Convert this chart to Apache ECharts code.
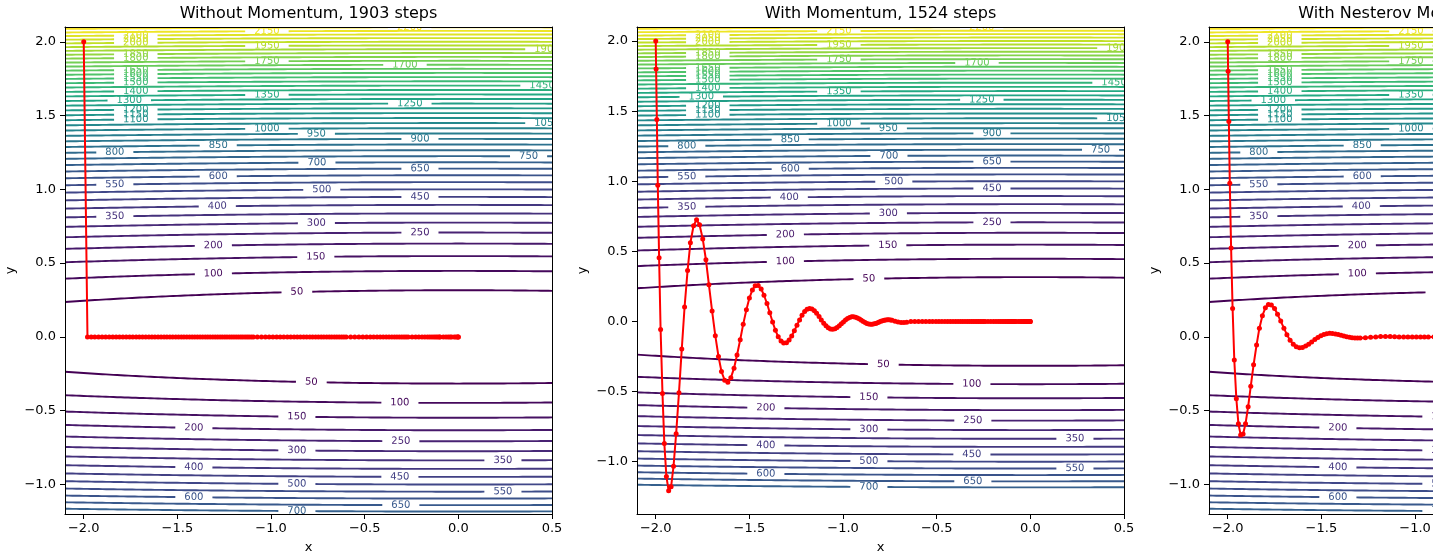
<!DOCTYPE html>
<html>
<head>
<meta charset="utf-8">
<script src="https://cdn.jsdelivr.net/npm/echarts@6/dist/echarts.min.js"></script>
<style>
  html, body { margin: 0; padding: 0; background: #ffffff; }
  #chart { width: 1433px; height: 555px; }
</style>
</head>
<body>
<div id="chart"></div>
<script>
// Loss surface f(x, y) = 5·x² + 500·y², drawn as labelled level curves
const surfaceWeights = [5, 500];
const surfaceDomainX = [-2.1, 0.5];
const surfaceDomainY = [-1.2, 2.1];

const levels = [50, 100, 150, 200, 250, 300, 350, 400, 450, 500, 550, 600, 650, 700, 750,
  800, 850, 900, 950, 1000, 1050, 1100, 1150, 1200, 1250, 1300, 1350, 1400, 1450, 1500,
  1550, 1600, 1650, 1700, 1750, 1800, 1850, 1900, 1950, 2000, 2050, 2100, 2150, 2200];

// x position of the inline label on the upper (y > 0) branch of each level
const upperLabelX = [-0.862, -1.308, -0.761, -1.308, -0.205, -0.758, -1.834, -1.287, -0.205, -0.729,
  -1.834, -1.282, -0.205, -0.755, 0.375, -1.834, -1.282, -0.205, -0.758, -1.022,
  0.473, -1.722, -1.722, -1.722, -0.259, -1.757, -1.022, -1.722, 0.447, -1.722,
  -1.722, -1.722, -1.722, -0.285, -1.022, -1.722, -1.722, 0.473, -1.022, -1.722,
  -1.722, -1.722, -1.022, -0.260];
// x position of the inline label on the lower (y < 0) branch, levels 50 … 700
const lowerLabelX = [-0.785, -0.312, -0.862, -1.412, -0.307, -0.862, 0.238, -1.412, -0.312, -0.862,
  0.238, -1.412, -0.307, -0.862];

const panelNames = ['Without Momentum', 'With Momentum', 'With Nesterov Momentum'];
const stepCounts = [1903, 1524, 1541];
const xTicks = [-2.0, -1.5, -1.0, -0.5, 0.0, 0.5];
const yTicks = [-1.0, -0.5, 0.0, 0.5, 1.0, 1.5, 2.0];
const panelYRange = [[-1.2, 2.1], [-1.373, 2.1], [-1.2, 2.1]];

// Plain gradient descent iterates
const plainPath = [[-2.000,2],[-1.980,0],[-1.960,0],[-1.941,0],[-1.921,0],[-1.902,0],[-1.883,0],[-1.864,0],[-1.845,0],[-1.827,0],[-1.809,0],
  [-1.791,0],[-1.773,0],[-1.755,0],[-1.738,0],[-1.720,0],[-1.703,0],[-1.686,0],[-1.669,0],[-1.652,0],[-1.636,0],
  [-1.620,0],[-1.603,0],[-1.587,0],[-1.571,0],[-1.556,0],[-1.540,0],[-1.525,0],[-1.509,0],[-1.494,0],[-1.479,0],
  [-1.465,0],[-1.450,0],[-1.435,0],[-1.421,0],[-1.407,0],[-1.393,0],[-1.379,0],[-1.365,0],[-1.351,0],[-1.338,0],
  [-1.325,0],[-1.311,0],[-1.298,0],[-1.285,0],[-1.272,0],[-1.260,0],[-1.247,0],[-1.235,0],[-1.222,0],[-1.210,0],
  [-1.198,0],[-1.186,0],[-1.174,0],[-1.162,0],[-1.151,0],[-1.139,0],[-1.128,0],[-1.117,0],[-1.105,0],[-1.094,0],
  [-1.073,0],[-1.051,0],[-1.030,0],[-1.010,0],[-0.990,0],[-0.970,0],[-0.951,0],[-0.932,0],[-0.913,0],[-0.895,0],
  [-0.877,0],[-0.860,0],[-0.843,0],[-0.826,0],[-0.810,0],[-0.793,0],[-0.778,0],[-0.762,0],[-0.747,0],[-0.732,0],
  [-0.718,0],[-0.703,0],[-0.689,0],[-0.676,0],[-0.662,0],[-0.649,0],[-0.636,0],[-0.623,0],[-0.611,0],[-0.599,0],
  [-0.575,0],[-0.553,0],[-0.531,0],[-0.510,0],[-0.490,0],[-0.470,0],[-0.452,0],[-0.434,0],[-0.417,0],[-0.401,0],
  [-0.385,0],[-0.370,0],[-0.355,0],[-0.341,0],[-0.328,0],[-0.315,0],[-0.302,0],[-0.290,0],[-0.279,0],[-0.268,0],
  [-0.247,0],[-0.228,0],[-0.211,0],[-0.194,0],[-0.179,0],[-0.165,0],[-0.153,0],[-0.141,0],[-0.130,0],[-0.120,0],
  [-0.111,0],[-0.102,0],[-0.098,0],[-0.080,0],[-0.066,0],[-0.054,0],[-0.044,0],[-0.036,0],[-0.022,0],[-0.013,0],
  [-0.005,0],[-0.001,0],[0,0]];

// Heavy-ball momentum iterates
const momentumPath = [[-2.000,2.000],[-1.998,1.800],[-1.994,1.440],[-1.989,0.972],[-1.982,0.454],[-1.974,-0.058],
  [-1.964,-0.513],[-1.954,-0.871],[-1.943,-1.106],[-1.931,-1.207],[-1.918,-1.178],[-1.905,-1.033],[-1.891,-0.800],
  [-1.876,-0.509],[-1.861,-0.197],[-1.846,0.103],[-1.830,0.363],[-1.815,0.561],[-1.798,0.683],[-1.782,0.725],
  [-1.766,0.690],[-1.749,0.589],[-1.732,0.440],[-1.716,0.261],[-1.699,0.074],[-1.682,-0.101],[-1.665,-0.249],
  [-1.649,-0.357],[-1.632,-0.419],[-1.615,-0.433],[-1.599,-0.402],[-1.582,-0.333],[-1.566,-0.239],[-1.549,-0.130],
  [-1.533,-0.019],[-1.516,0.083],[-1.500,0.167],[-1.484,0.225],[-1.469,0.255],[-1.453,0.256],[-1.437,0.232],
  [-1.422,0.187],[-1.406,0.128],[-1.391,0.062],[-1.376,-0.004],[-1.361,-0.063],[-1.346,-0.109],[-1.331,-0.140],
  [-1.317,-0.154],[-1.302,-0.151],[-1.288,-0.133],[-1.274,-0.104],[-1.260,-0.067],[-1.246,-0.027],[-1.232,0.011],
  [-1.219,0.045],[-1.205,0.071],[-1.192,0.087],[-1.179,0.093],[-1.166,0.089],[-1.153,0.076],[-1.141,0.058],
  [-1.128,0.035],[-1.116,0.011],[-1.103,-0.012],[-1.091,-0.031],[-1.079,-0.045],[-1.067,-0.054],[-1.055,-0.056],
  [-1.043,-0.052],[-1.032,-0.043],[-1.020,-0.031],[-1.009,-0.017],[-0.998,-0.003],[-0.987,0.010],[-0.976,0.021],
  [-0.965,0.029],[-0.954,0.033],[-0.944,0.033],[-0.933,0.030],[-0.923,0.024],[-0.912,0.017],[-0.902,0.008],
  [-0.892,0.000],[-0.882,-0.008],[-0.873,-0.014],[-0.863,-0.018],[-0.853,-0.020],[-0.844,-0.019],[-0.834,-0.017],
  [-0.825,-0.014],[-0.816,-0.009],[-0.807,-0.004],[-0.798,0.001],[-0.789,0.006],[-0.780,0.009],[-0.772,0.011],
  [-0.763,0.012],[-0.755,0.012],[-0.746,0.010],[-0.738,0.008],[-0.722,0.002],[-0.706,-0.004],[-0.690,-0.007],
  [-0.675,-0.007],[-0.660,-0.005],[-0.638,0],[-0.617,0],[-0.597,0],[-0.577,0],[-0.558,0],[-0.539,0],[-0.522,0],
  [-0.504,0],[-0.488,0],[-0.472,0],[-0.456,0],[-0.441,0],[-0.427,0],[-0.413,0],[-0.399,0],[-0.386,0],[-0.373,0],
  [-0.361,0],[-0.349,0],[-0.337,0],[-0.326,0],[-0.315,0],[-0.305,0],[-0.295,0],[-0.285,0],[-0.276,0],[-0.267,0],
  [-0.258,0],[-0.249,0],[-0.241,0],[-0.226,0],[-0.211,0],[-0.197,0],[-0.184,0],[-0.172,0],[-0.161,0],[-0.151,0],
  [-0.141,0],[-0.132,0],[-0.123,0],[-0.115,0],[-0.108,0],[-0.101,0],[-0.094,0],[-0.088,0],[-0.082,0],[-0.077,0],
  [-0.065,0],[-0.055,0],[-0.047,0],[-0.039,0],[-0.033,0],[-0.028,0],[-0.024,0],[-0.020,0],[-0.017,0],[-0.014,0],
  [-0.008,0],[-0.005,0],[-0.003,0],[-0.001,0],[0,0]];

// Nesterov momentum iterates
const nesterovPath = [[-2.000,2.000],[-1.998,1.800],[-1.994,1.460],[-1.989,1.042],[-1.982,0.603],[-1.974,0.192],
  [-1.965,-0.156],[-1.954,-0.419],[-1.943,-0.588],[-1.931,-0.664],[-1.918,-0.658],[-1.905,-0.588],[-1.891,-0.473],
  [-1.877,-0.334],[-1.862,-0.189],[-1.846,-0.054],[-1.831,0.059],[-1.815,0.144],[-1.799,0.197],[-1.783,0.220],
  [-1.767,0.216],[-1.750,0.192],[-1.734,0.153],[-1.717,0.107],[-1.700,0.059],[-1.684,0.015],[-1.667,-0.022],
  [-1.650,-0.049],[-1.634,-0.066],[-1.617,-0.073],[-1.601,-0.071],[-1.584,-0.062],[-1.568,-0.049],[-1.552,-0.034],
  [-1.535,-0.018],[-1.519,-0.004],[-1.503,0.008],[-1.487,0.016],[-1.472,0.022],[-1.456,0.024],[-1.441,0.023],
  [-1.425,0.020],[-1.410,0.016],[-1.395,0.011],[-1.380,0.006],[-1.365,0.001],[-1.350,-0.003],[-1.336,-0.006],
  [-1.321,-0.007],[-1.307,-0.008],[-1.293,-0.008],[-1.265,-0.005],[-1.237,-0.002],[-1.210,0.000],[-1.184,0.002],
  [-1.158,0.003],[-1.133,0.002],[-1.109,0.001],[-1.085,0],[-1.061,0],[-1.038,0],[-1.015,0],[-0.993,0],[-0.971,0],
  [-0.950,0],[-0.929,0],[-0.899,0],[-0.870,0],[-0.841,0],[-0.814,0],[-0.787,0],[-0.762,0],[-0.737,0],[-0.713,0],
  [-0.690,0],[-0.667,0],[-0.597,0],[-0.479,0],[-0.344,0],[-0.247,0],[-0.142,0],[-0.082,0],[-0.027,0],[-0.009,0],
  [-0.001,0],[0,0]];

const panelPaths = [plainPath, momentumPath, nesterovPath];

const FONT = 'DejaVu Sans';
const LABEL_SIZE = 10;
const viridis = ['#440154', '#482475', '#414487', '#355f8d', '#2a788e', '#21918c',
  '#22a884', '#44bf70', '#7ad151', '#bddf26', '#fde725'];

function hexToRgb(h) { return [1, 3, 5].map(i => parseInt(h.slice(i, i + 2), 16)); }
function levelColor(c) {
  const t = (c - levels[0]) / (levels[levels.length - 1] - levels[0]);
  const s = t * (viridis.length - 1);
  const i = Math.min(viridis.length - 2, Math.floor(s));
  const f = s - i;
  const a = hexToRgb(viridis[i]), b = hexToRgb(viridis[i + 1]);
  return 'rgb(' + a.map((v, k) => Math.round(v + (b[k] - v) * f)).join(',') + ')';
}
const tickText = v => v.toFixed(1).replace('-', '\u2212');

// One item per level curve branch: [label x, level, branch sign]
const contourItems = [];
levels.forEach((c, i) => contourItems.push([upperLabelX[i], c, 1]));
lowerLabelX.forEach((lx, i) => contourItems.push([lx, levels[i], -1]));

function renderContour(params, api) {
  const lx = api.value(0), c = api.value(1), branch = api.value(2);
  const [wx, wy] = surfaceWeights;
  const branchY = x => branch * Math.sqrt(Math.max(0, (c - wx * x * x) / wy));
  const color = levelColor(c);
  const pxPerUnit = api.size([1, 0])[0];
  const text = String(c);
  const halfGap = (text.length * 0.636 * LABEL_SIZE) / 2 + 9;
  const gapL = lx - halfGap / pxPerUnit, gapR = lx + halfGap / pxPerUnit;
  const children = [];
  [[surfaceDomainX[0], gapL], [gapR, surfaceDomainX[1]]].forEach(([a, b]) => {
    if (b <= a) return;
    const n = Math.max(2, Math.ceil((b - a) / 0.02));
    const pts = [];
    for (let k = 0; k <= n; k++) {
      const x = a + (b - a) * k / n;
      const y = branchY(x);
      if (y >= surfaceDomainY[0] && y <= surfaceDomainY[1]) pts.push(api.coord([x, y]));
    }
    if (pts.length > 1) {
      children.push({ type: 'polyline', shape: { points: pts },
        style: { stroke: color, lineWidth: 1.9, fill: null } });
    }
  });
  const p0 = api.coord([lx - 0.01, branchY(lx - 0.01)]);
  const p1 = api.coord([lx + 0.01, branchY(lx + 0.01)]);
  const pc = api.coord([lx, branchY(lx)]);
  children.push({
    type: 'text', x: pc[0], y: pc[1],
    rotation: -Math.atan2(p1[1] - p0[1], p1[0] - p0[0]),
    style: { text: text, fill: color, fontSize: LABEL_SIZE, fontFamily: FONT,
      align: 'center', verticalAlign: 'middle' }
  });
  return { type: 'group', children: children };
}

const panelLeft = [65, 637, 1209];
const panelTop = 27, panelWidth = 487, panelHeight = 487;

const grids = [], xAxes = [], yAxes = [], titles = [], series = [];
panelLeft.forEach((left, g) => {
  grids.push({ left: left, top: panelTop, width: panelWidth, height: panelHeight,
    containLabel: false, outerBoundsMode: 'none', show: false });
  const [ymin, ymax] = panelYRange[g];
  const lineStyle = { color: '#000000', width: 1 };
  const labelStyle = { color: '#000000', fontSize: 13, fontFamily: FONT };
  xAxes.push({
    type: 'value', gridIndex: g, min: surfaceDomainX[0], max: surfaceDomainX[1], position: 'bottom', z: 10,
    axisLine: { show: true, onZero: false, lineStyle: lineStyle },
    axisTick: { show: true, inside: false, length: 5, lineStyle: lineStyle, customValues: xTicks },
    axisLabel: Object.assign({ show: true, margin: 8, customValues: xTicks, formatter: tickText }, labelStyle),
    splitLine: { show: false },
    name: 'x', nameLocation: 'middle', nameGap: 27, nameMoveOverlap: false,
    nameTextStyle: { color: '#000000', fontSize: 13, fontFamily: FONT }
  });
  xAxes.push({
    type: 'value', gridIndex: g, min: surfaceDomainX[0], max: surfaceDomainX[1], position: 'top', z: 10,
    axisLine: { show: true, onZero: false, lineStyle: lineStyle },
    axisTick: { show: false }, axisLabel: { show: false }, splitLine: { show: false }
  });
  yAxes.push({
    type: 'value', gridIndex: g, min: ymin, max: ymax, position: 'left', z: 10,
    axisLine: { show: true, onZero: false, lineStyle: lineStyle },
    axisTick: { show: true, inside: false, length: 5, lineStyle: lineStyle, customValues: yTicks },
    axisLabel: Object.assign({ show: true, margin: 9, customValues: yTicks, formatter: tickText }, labelStyle),
    splitLine: { show: false },
    name: 'y', nameLocation: 'middle', nameGap: 48, nameRotate: 90, nameMoveOverlap: false,
    nameTextStyle: { color: '#000000', fontSize: 13, fontFamily: FONT }
  });
  yAxes.push({
    type: 'value', gridIndex: g, min: ymin, max: ymax, position: 'right', z: 10,
    axisLine: { show: true, onZero: false, lineStyle: lineStyle },
    axisTick: { show: false }, axisLabel: { show: false }, splitLine: { show: false }
  });
  titles.push({
    text: panelNames[g] + ', ' + stepCounts[g] + ' steps',
    left: left + panelWidth / 2 - 5, top: 1, textAlign: 'center',
    textStyle: { color: '#000000', fontSize: 16, fontWeight: 'normal', fontFamily: FONT }
  });
  series.push({
    type: 'custom', name: 'contours-' + g, xAxisIndex: 2 * g, yAxisIndex: 2 * g,
    coordinateSystem: 'cartesian2d', clip: true, silent: true, z: 2,
    renderItem: renderContour, data: contourItems
  });
  series.push({
    type: 'line', name: 'path-' + g, xAxisIndex: 2 * g, yAxisIndex: 2 * g,
    data: panelPaths[g], clip: true, silent: true, z: 4,
    symbol: 'circle', symbolSize: 5, showSymbol: true,
    lineStyle: { color: '#ff0000', width: 2 }, itemStyle: { color: '#ff0000' },
    emphasis: { disabled: true }
  });
});

const chart = echarts.init(document.getElementById('chart'), null, { renderer: 'canvas', width: 1433, height: 555 });
chart.setOption({
  backgroundColor: '#ffffff',
  animation: false,
  title: titles,
  grid: grids,
  xAxis: xAxes,
  yAxis: yAxes,
  series: series
});
</script>
</body>
</html>
